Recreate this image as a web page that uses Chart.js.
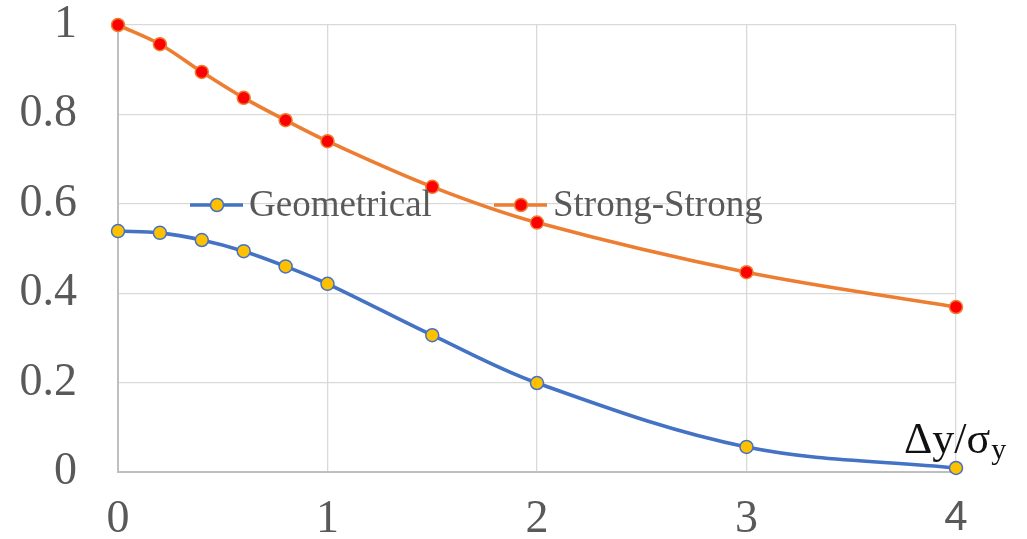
<!DOCTYPE html>
<html>
<head>
<meta charset="utf-8">
<script src="https://cdn.jsdelivr.net/npm/chart.js@4.4.1/dist/chart.umd.min.js"></script>
<style>
  html, body { margin: 0; padding: 0; background: #ffffff; }
  #wrap { width: 1027px; height: 539px; position: relative; }
</style>
</head>
<body>
<div id="wrap"><canvas id="c" width="1027" height="539"></canvas></div>
<script>
// Separation Δy/σy and the two luminance-reduction curves
const xValues = [0, 0.2, 0.4, 0.6, 0.8, 1, 1.5, 2, 3, 4];
const geometrical = [0.539, 0.535, 0.519, 0.494, 0.460, 0.421, 0.306, 0.199, 0.056, 0.009];
const strongStrong = [1.000, 0.957, 0.895, 0.837, 0.787, 0.740, 0.638, 0.558, 0.447, 0.369];
const seriesNames = ['Geometrical', 'Strong-Strong'];
const xTicks = [0, 1, 2, 3, 4];
const yTicks = [0, 0.2, 0.4, 0.6, 0.8, 1];

const SERIF = '"Liberation Serif", "Times New Roman", serif';
const SANS = '"Liberation Sans", Arial, sans-serif';
const TEXT = '#595959';

const toPoints = ys => xValues.map((x, i) => ({ x: x, y: ys[i] }));

// Legend drawn inside the plot, one row
const inlineLegend = {
  id: 'inlineLegend',
  afterDatasetsDraw(chart) {
    const ctx = chart.ctx;
    const rowY = 205;
    const items = [
      { ds: chart.data.datasets[0], x0: 190 },
      { ds: chart.data.datasets[1], x0: 494 }
    ];
    ctx.save();
    items.forEach(it => {
      const ds = it.ds;
      ctx.strokeStyle = ds.borderColor;
      ctx.lineWidth = ds.borderWidth;
      ctx.beginPath();
      ctx.moveTo(it.x0, rowY);
      ctx.lineTo(it.x0 + 53, rowY);
      ctx.stroke();
      ctx.beginPath();
      ctx.arc(it.x0 + 27, rowY, ds.pointRadius, 0, Math.PI * 2);
      ctx.fillStyle = ds.pointBackgroundColor;
      ctx.fill();
      ctx.lineWidth = ds.pointBorderWidth;
      ctx.strokeStyle = ds.pointBorderColor;
      ctx.stroke();
      ctx.fillStyle = TEXT;
      ctx.font = '37px ' + SERIF;
      ctx.textBaseline = 'middle';
      ctx.textAlign = 'left';
      ctx.fillText(ds.label, it.x0 + 59, rowY + 1);
    });
    ctx.restore();
  }
};

// Axis title Δy/σy placed above the right end of the x axis
const axisTitle = {
  id: 'axisTitle',
  afterDraw(chart) {
    const ctx = chart.ctx;
    const x = 904;
    const base = 453;
    ctx.save();
    ctx.fillStyle = '#111111';
    ctx.textBaseline = 'alphabetic';
    ctx.textAlign = 'left';
    ctx.font = '44px ' + SERIF;
    const main = 'Δy/σ';
    ctx.fillText(main, x, base);
    const w = ctx.measureText(main).width;
    ctx.font = '30px ' + SERIF;
    ctx.fillText('y', x + w + 1, base + 6);
    ctx.restore();
  }
};

const gridColor = '#d9d9d9';
const axisColor = '#bfbfbf';

new Chart(document.getElementById('c'), {
  type: 'line',
  data: {
    datasets: [
      {
        label: seriesNames[0],
        data: toPoints(geometrical),
        borderColor: '#4472C4',
        borderWidth: 3.6,
        pointBackgroundColor: '#FFC000',
        pointBorderColor: '#4472C4',
        pointBorderWidth: 1.5,
        pointRadius: 6.5,
        tension: 0.35,
        fill: false,
        clip: false
      },
      {
        label: seriesNames[1],
        data: toPoints(strongStrong),
        borderColor: '#ED7D31',
        borderWidth: 3.6,
        pointBackgroundColor: '#FF0000',
        pointBorderColor: '#ED7D31',
        pointBorderWidth: 1.5,
        pointRadius: 6.5,
        tension: 0.35,
        fill: false,
        clip: false
      }
    ]
  },
  options: {
    responsive: false,
    animation: false,
    devicePixelRatio: 1,
    layout: { autoPadding: false, padding: { left: 0, top: 25, right: 71, bottom: 0 } },
    plugins: {
      legend: { display: false },
      tooltip: { enabled: false },
      title: { display: false }
    },
    scales: {
      x: {
        type: 'linear',
        min: 0,
        max: 4,
        afterFit(scale) {
          scale.height = 67;
          scale.paddingLeft = 0;
          scale.paddingRight = 0;
        },
        afterBuildTicks(scale) { scale.ticks = xTicks.map(v => ({ value: v })); },
        grid: { color: gridColor, lineWidth: 1.3, drawTicks: false },
        border: { color: axisColor, width: 2 },
        ticks: {
          padding: 25,
          color: TEXT,
          maxRotation: 0,
          font: (c) => (c.tick && c.tick.value === 4)
            ? { family: SANS, size: 42, lineHeight: 1 }
            : { family: SERIF, size: 46, lineHeight: 1 },
          callback: (v) => String(v)
        }
      },
      y: {
        type: 'linear',
        min: 0,
        max: 1,
        afterFit(scale) {
          scale.width = 118;
          scale.paddingTop = 0;
          scale.paddingBottom = 0;
        },
        afterBuildTicks(scale) { scale.ticks = yTicks.map(v => ({ value: v })); },
        grid: { color: gridColor, lineWidth: 1.3, drawTicks: false },
        border: { color: axisColor, width: 2 },
        ticks: {
          padding: 41,
          color: TEXT,
          font: { family: SERIF, size: 46, lineHeight: 1 },
          callback: (v) => String(parseFloat(Number(v).toFixed(1)))
        }
      }
    }
  },
  plugins: [inlineLegend, axisTitle]
});
</script>
</body>
</html>
